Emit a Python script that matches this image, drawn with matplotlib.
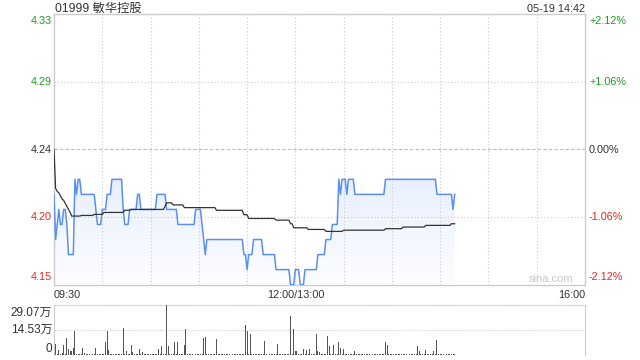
import numpy as np
import matplotlib
matplotlib.use("Agg")
import matplotlib.pyplot as plt
from matplotlib.patches import Polygon

plt.rcParams['font.family'] = ['Liberation Sans', 'Noto Sans CJK SC', 'DejaVu Sans']

# price per minute, run-length encoded (value, number of minutes)
price_levels = [4.21, 4.18, 4.19, 4.20, 4.19, 4.20, 4.19, 4.17, 4.22, 4.21, 4.22, 4.21,
                4.20, 4.19, 4.20, 4.21, 4.22, 4.20, 4.19, 4.20, 4.21, 4.20, 4.21, 4.20,
                4.19, 4.20, 4.19, 4.18, 4.17, 4.18, 4.17, 4.16, 4.17, 4.18, 4.17, 4.16,
                4.15, 4.16, 4.15, 4.16, 4.17, 4.18, 4.19, 4.22, 4.21, 4.22, 4.21, 4.22,
                4.21, 4.22, 4.21, 4.20, 4.21]
price_runs = [1, 1, 1, 1, 2, 2, 1, 4, 1, 1, 2, 9,
              1, 3, 3, 3, 7, 1, 3, 5, 2, 10, 6, 7,
              11, 4, 1, 1, 1, 23, 2, 1, 3, 6, 8, 9,
              3, 3, 3, 8, 5, 4, 4, 1, 1, 3, 1, 4,
              19, 32, 10, 1, 1]

# average price line, run-length encoded
avg_levels = [4.240, 4.214, 4.212, 4.211, 4.209, 4.207, 4.206, 4.204, 4.202, 4.200, 4.198,
              4.1956, 4.1960, 4.1967, 4.1980, 4.1995, 4.2000, 4.2020, 4.2044, 4.2030,
              4.2012, 4.1994, 4.1965, 4.1940, 4.1929, 4.1905, 4.1878, 4.1867, 4.1854,
              4.1862, 4.1872, 4.1883, 4.1894, 4.1905]
avg_runs = [1, 1, 1, 1, 1, 1, 1, 1, 1, 1, 1,
            6, 8, 6, 13, 4, 21, 1, 4, 7,
            20, 17, 3, 17, 9, 2, 9, 11, 11,
            26, 11, 14, 16, 3]

# visible volume bars (minute index, shares); other minutes are tiny
vol_minutes = [0, 1, 3, 5, 6, 8, 9, 10, 11, 12, 13, 18, 19, 26, 32, 33, 34, 43, 45, 48,
               49, 53, 55, 65, 67, 70, 71, 75, 77, 81, 82, 93, 94, 101, 119, 120, 122, 131,
               139, 147, 149, 150, 151, 155, 157, 159, 163, 164, 165, 170, 171, 174, 177,
               178, 180, 187, 206, 207, 226, 227, 231, 236, 238]
vol_values = [61000, 61000, 29000, 13000, 55000, 96000, 36000, 23000, 23000, 38000,
              140000, 38000, 13000, 38000, 76000, 140000, 29000, 155000, 23000, 57000,
              17000, 36000, 17000, 36000, 52000, 290700, 52000, 75000, 75000, 57000,
              147000, 97000, 103000, 92000, 172000, 138000, 119000, 80000, 61000, 224000,
              151000, 23000, 23000, 36000, 29000, 36000, 122000, 23000, 17000, 109000,
              52000, 57000, 75000, 42000, 36000, 23000, 75000, 57000, 52000, 23000,
              29000, 23000, 86000]
vol_small = 4000

prev_close = 4.24
pct_levels = [2.12, 1.06, 0.0, -1.06, -2.12]
price_labels = ['4.33', '4.29', '4.24', '4.20', '4.15']
pct_labels = ['+2.12%', '+1.06%', '0.00%', '-1.06%', '-2.12%']
time_labels = ['09:30', '12:00/13:00', '16:00']
vol_labels = ['29.07万', '14.53万', '0']
vol_max = 290700

price = np.repeat(price_levels, price_runs)
avg = np.repeat(avg_levels, avg_runs)
minutes = np.arange(len(price))
volume = np.full(len(price), vol_small)
volume[vol_minutes] = vol_values

W, H = 640, 360
fig = plt.figure(figsize=(6.4, 3.6), dpi=100)
L, R, T, B = 54, 585, 14, 284.5
ax = fig.add_axes([L / W, 1 - B / H, (R - L) / W, (B - T) / H])
vT, vB = 304.5, 355
axv = fig.add_axes([L / W, 1 - vB / H, (R - L) / W, (vB - vT) / H])

green, red, dark, border = '#1f9f1f', '#e8261e', '#333333', '#cccccc'
colors = [green, green, dark, red, red]
levels = [prev_close * (1 + p / 100) for p in pct_levels]
ylo, yhi = levels[-1], levels[0]

ax.set_xlim(0, 330)
ax.set_ylim(ylo, yhi)
for xv in range(30, 330, 30):
    ax.axvline(xv, color=border, lw=0.8, ls=(0, (1, 2)))
for lv in (levels[1], levels[3]):
    ax.axhline(lv, color=border, lw=0.8, ls=(0, (1, 2)))
ax.axhline(prev_close, color='#bbbbbb', lw=0.8, ls=(0, (3, 2)))

# gradient fill under the price line
grad = np.zeros((100, 2, 4))
grad[..., 0], grad[..., 1], grad[..., 2] = 0.36, 0.56, 0.95
grad[..., 3] = np.linspace(0.02, 0.14, 100)[:, None]
im = ax.imshow(grad, extent=[0, minutes[-1], ylo, 4.22], origin='lower',
               aspect='auto', zorder=1)
verts = [(0, ylo)] + list(zip(minutes, price)) + [(minutes[-1], ylo)]
clip = Polygon(verts, closed=True, facecolor='none', edgecolor='none')
ax.add_patch(clip)
im.set_clip_path(clip)
ax.set_xlim(0, 330)
ax.set_ylim(ylo, yhi)

ax.plot(minutes, price, color='#5b8ff0', lw=1.1, zorder=3)
ax.plot(minutes, avg, color='#333333', lw=0.9, zorder=4)

ax.set_xticks([])
ax.set_yticks([])
for s in ax.spines.values():
    s.set_color(border)
    s.set_linewidth(1)

axv.bar(minutes, volume, width=0.6, color='#555555', zorder=3)
axv.set_xlim(0, 330)
axv.set_ylim(0, vol_max)
axv.axhline(vol_max / 2, color=border, lw=0.8, ls=(0, (1, 1.5)))
axv.set_xticks([])
axv.set_yticks([])
for k in ('left', 'right'):
    axv.spines[k].set_color(border)
axv.spines['top'].set_color(border)
axv.spines['top'].set_linestyle((0, (1, 1.5)))
axv.spines['bottom'].set_visible(False)

fs = 7.8
def px(x, y):
    return x / W, 1 - y / H

# price axis labels
ys = [T, 82, 150, 217, B]
vas = ['top', 'center', 'center', 'center', 'bottom']
offs = [2, 0, 0, 0, -2]
for lab, pl, c, y, va, o in zip(price_labels, pct_labels, colors, ys, vas, offs):
    fig.text(*px(52, y + o), lab, color=c, fontsize=fs, ha='right', va=va)
    fig.text(*px(589, y + o), pl, color=c, fontsize=fs, ha='left', va=va)

fig.text(*px(55, 8.5), '01999 敏华控股', color=dark, fontsize=8.8, ha='left', va='center')
fig.text(*px(585, 8.5), '05-19 14:42', color=dark, fontsize=fs, ha='right', va='center')

fig.text(*px(54, 295), time_labels[0], color=dark, fontsize=fs, ha='left', va='center')
fig.text(*px(296, 295), time_labels[1], color=dark, fontsize=fs, ha='center', va='center')
fig.text(*px(585, 295), time_labels[2], color=dark, fontsize=fs, ha='right', va='center')

fig.text(*px(52, 313), vol_labels[0], color=dark, fontsize=8.5, ha='right', va='center')
fig.text(*px(52, 329.5), vol_labels[1], color=dark, fontsize=8.5, ha='right', va='center')
fig.text(*px(52, 348.5), vol_labels[2], color=dark, fontsize=8.5, ha='right', va='center')

fig.text(*px(573, 279), 'sina.com', color='#c8c8c8', fontsize=8, ha='right', va='center')

fig.savefig('out.png', dpi=100)
